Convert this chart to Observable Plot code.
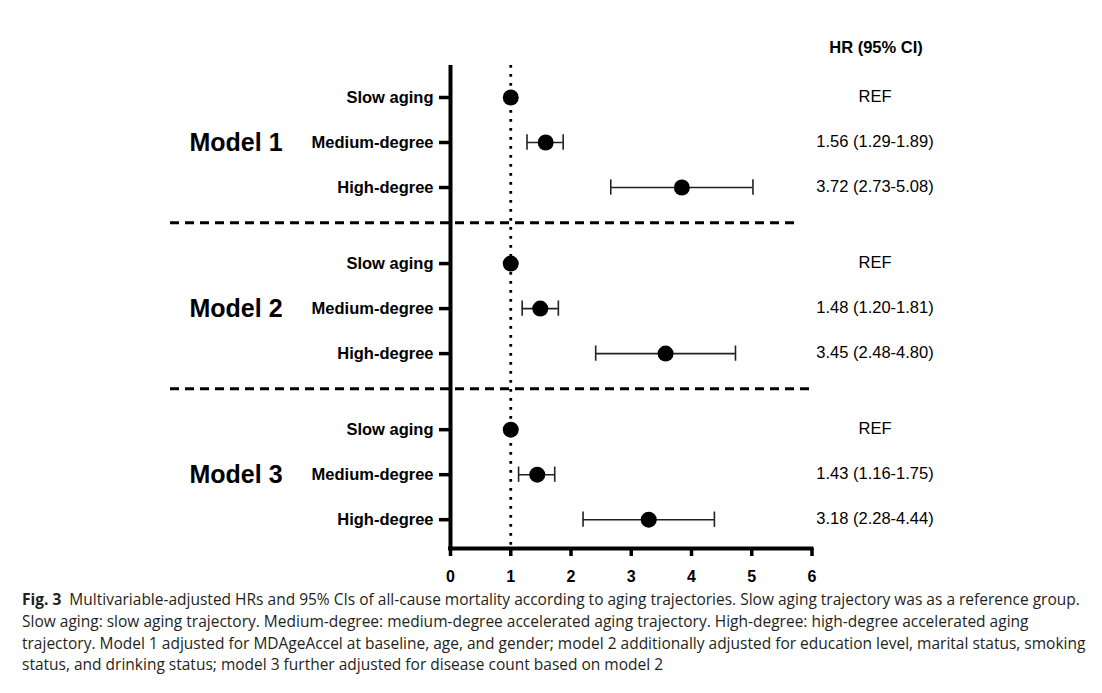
<!DOCTYPE html>
<html>
<head>
<meta charset="utf-8">
<script src="https://cdn.jsdelivr.net/npm/d3@7"></script>
<script src="https://cdn.jsdelivr.net/npm/@observablehq/plot@0.6"></script>
<style>
  html, body { margin: 0; padding: 0; background: #fff; }
  #chart svg { display: block; font-family: "Liberation Sans", Arial, sans-serif; }
  #caption {
    margin: 0 0 0 22px; font-family: "Open Sans", "Noto Sans", sans-serif;
    color: #231f20; font-size: 15px; line-height: 21.8px; white-space: nowrap;
  }
  #caption b { font-weight: 700; }
</style>
</head>
<body>
<div id="chart"></div>
<div id="caption"></div>
<script>
// ---- data ----
const models = ["Model 1", "Model 2", "Model 3"];
const categories = ["Slow aging", "Medium-degree", "High-degree"];
const hr = [[1, 1.58, 3.84], [1, 1.49, 3.57], [1, 1.44, 3.29]];
const ciLow = [[null, 1.27, 2.66], [null, 1.19, 2.41], [null, 1.13, 2.20]];
const ciHigh = [[null, 1.87, 5.02], [null, 1.79, 4.73], [null, 1.73, 4.38]];
const hrLabels = [
  ["REF", "1.56 (1.29-1.89)", "3.72 (2.73-5.08)"],
  ["REF", "1.48 (1.20-1.81)", "3.45 (2.48-4.80)"],
  ["REF", "1.43 (1.16-1.75)", "3.18 (2.28-4.44)"]
];
const xTicks = [0, 1, 2, 3, 4, 5, 6];
const header = "HR (95% CI)";
const captionLines = [
  "<b>Fig. 3</b>&nbsp;&nbsp;Multivariable-adjusted HRs and 95% CIs of all-cause mortality according to aging trajectories. Slow aging trajectory was as a reference group.",
  "Slow aging: slow aging trajectory. Medium-degree: medium-degree accelerated aging trajectory. High-degree: high-degree accelerated aging",
  "trajectory. Model 1 adjusted for MDAgeAccel at baseline, age, and gender; model 2 additionally adjusted for education level, marital status, smoking",
  "status, and drinking status; model 3 further adjusted for disease count based on model 2"
];

// ---- layout (row units) ----
const groupStep = 3.69;
const rows = [];
models.forEach((m, g) => categories.forEach((c, r) => rows.push({
  model: m, cat: c, pos: g * groupStep + r,
  hr: hr[g][r], lo: ciLow[g][r], hi: ciHigh[g][r], label: hrLabels[g][r]
})));
const ciRows = rows.filter(d => d.lo != null);
const modelRows = rows.filter(d => d.cat === categories[1]);
const seps = models.slice(1).map((m, i) => (i) * groupStep + 2.78);

const bold = "bold";
const plot = Plot.plot({
  width: 1102, height: 589,
  marginLeft: 450, marginRight: 290.5, marginTop: 65, marginBottom: 41,
  x: {domain: [0, 6]},
  y: {domain: [-0.711, 10.02], reverse: true},
  marks: [
    // dotted reference line at HR = 1
    Plot.ruleX([1], {stroke: "#000", strokeWidth: 2.8, strokeDasharray: "2.8,6.2"}),
    // dashed separators
    Plot.ruleY([seps[0]], {stroke: "#000", strokeWidth: 3, strokeDasharray: "9,6", insetLeft: -280, insetRight: 13.5}),
    Plot.ruleY([seps[1]], {stroke: "#000", strokeWidth: 3, strokeDasharray: "9,6", insetLeft: -280, insetRight: -3.5}),
    // CI whiskers
    Plot.ruleY(ciRows, {y: "pos", x1: "lo", x2: "hi", stroke: "#222", strokeWidth: 1.6}),
    Plot.ruleX(ciRows, {x: "lo", y1: d => d.pos - 0.17, y2: d => d.pos + 0.17, stroke: "#222", strokeWidth: 1.6}),
    Plot.ruleX(ciRows, {x: "hi", y1: d => d.pos - 0.17, y2: d => d.pos + 0.17, stroke: "#222", strokeWidth: 1.6}),
    // points
    Plot.dot(rows, {x: "hr", y: "pos", r: 8, fill: "#000"}),
    // axes lines
    Plot.ruleX([0], {stroke: "#000", strokeWidth: 4}),
    Plot.ruleY([10.02], {stroke: "#000", strokeWidth: 4, insetLeft: -2, insetRight: -2}),
    Plot.axisX({ticks: xTicks, tickFormat: d => String(d), tickSize: 8, strokeWidth: 3.5,
      tickPadding: 14, fontSize: 16, fontWeight: bold, fill: "#000", label: null}),
    Plot.axisY({ticks: rows.map(d => d.pos), tickFormat: p => rows.find(d => d.pos === p).cat,
      tickSize: 11, strokeWidth: 3.5, tickPadding: 6, fontSize: 16.5, fontWeight: bold, fill: "#000", label: null}),
    // model labels
    Plot.text(modelRows, {y: "pos", text: "model", frameAnchor: "left", dx: -261, textAnchor: "start",
      fontSize: 25, fontWeight: bold, fill: "#000"}),
    // HR (95% CI) column
    Plot.text([header], {text: d => d, frameAnchor: "top-right", dx: 64, dy: -24, textAnchor: "middle",
      fontSize: 16.5, fontWeight: bold, fill: "#000"}),
    Plot.text(rows, {y: "pos", text: "label", frameAnchor: "right", dx: 63, dy: -1, textAnchor: "middle",
      fontSize: 16.5, fill: "#000"})
  ]
});
document.getElementById("chart").appendChild(plot);

const cap = document.getElementById("caption");
cap.innerHTML = captionLines.map(l => `<div class="ln">${l}</div>`).join("");
// fit caption first line to the reference's width
const first = cap.querySelector(".ln");
const span = document.createElement("span");
span.innerHTML = captionLines[0];
first.innerHTML = ""; first.appendChild(span);
const w = span.getBoundingClientRect().width;
const fs = 15 * 1059 / w;
cap.style.fontSize = fs + "px";
</script>
</body>
</html>
